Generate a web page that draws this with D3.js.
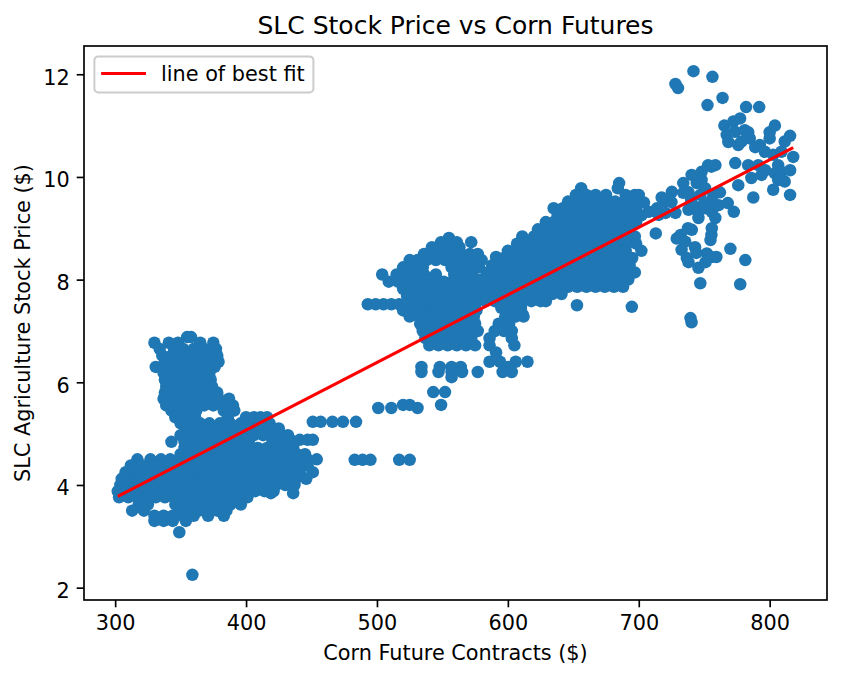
<!doctype html>
<html>
<head>
<meta charset="utf-8">
<script src="https://cdnjs.cloudflare.com/ajax/libs/d3/7.8.5/d3.min.js"></script>
<style>
    body { margin: 0; background: #fff; }
    text { font-family: "DejaVu Sans", sans-serif; fill: #000; }
</style>
</head>
<body>
<svg id="chart" width="843" height="678"></svg>
<script>
    // rows: [SLC price, [corn future prices at that price]]
    var leftTallRows = [
        [6.88, [355, 358]],
        [6.77, [330, 341, 348, 365, 375]],
        [6.65, [334, 345, 352, 360, 368, 377]],
        [6.52, [336, 343, 350, 357, 364, 371, 378]],
        [6.4, [338, 346, 353, 360, 367, 374, 379]],
        [6.3, [331, 340, 347, 354, 362, 369, 376]],
        [6.18, [337, 344, 351, 358, 365, 372]],
        [6.05, [338, 345, 352, 359, 366, 373]],
        [5.92, [339, 347, 354, 361, 368, 374]],
        [5.8, [338, 345, 352, 359, 366, 373, 378]],
        [5.68, [337, 344, 351, 358, 365, 372, 379, 387]],
        [5.55, [339, 347, 354, 361, 368, 375, 382, 390]],
        [5.45, [343, 350, 357, 362, 383, 391]],
        [5.32, [346, 353, 361, 386, 400, 406, 411, 416]],
        [5.2, [350, 358, 365, 372, 380, 388, 396, 403, 410, 418]]
    ];

    var leftLowerRows = [
        [5.1, [354, 361, 368, 375, 382, 389, 396, 403, 410, 418, 425]],
        [4.97, [350, 357, 364, 371, 378, 385, 392, 399, 406, 413, 420, 427, 432]],
        [4.88, [420, 427, 434, 441, 447, 451]],
        [4.84, [343, 353, 360, 367, 374, 381, 388, 395, 402]],
        [4.72, [353, 360, 367, 374, 381, 388, 395, 402, 409, 416, 423, 430, 436]],
        [4.6, [350, 356, 362, 369, 376, 383, 390, 397, 404, 411, 418, 425, 432, 439, 445]],
        [4.5, [317, 327, 335, 342, 349, 356, 363, 370, 377, 384, 391, 398, 405, 412, 419, 426, 433, 440, 447, 454]],
        [4.38, [312, 320, 328, 335, 342, 349, 356, 363, 370, 377, 384, 391, 398, 405, 412, 419, 426, 433, 440, 447]],
        [4.25, [308, 315, 322, 329, 336, 343, 350, 357, 364, 371, 378, 385, 392, 399, 406, 413, 420, 427, 434, 441, 451]],
        [4.12, [305, 312, 319, 326, 333, 340, 347, 354, 361, 368, 375, 382, 389, 396, 403, 410, 417, 424, 431, 438, 446]],
        [4.0, [304, 311, 318, 325, 332, 339, 346, 353, 360, 367, 374, 381, 388, 395, 402, 409, 416, 423, 430, 437]],
        [3.88, [302, 309, 316, 323, 330, 337, 344, 351, 358, 365, 372, 379, 386, 393, 400, 407, 414, 421]],
        [3.84, [419, 436]],
        [3.76, [303, 310, 317, 324, 331, 338, 345, 352, 359, 366, 373, 380, 387, 394, 401]],
        [3.62, [318, 325, 346, 353, 360, 367, 374, 381, 388, 396]],
        [3.5, [313, 322, 350, 357, 364, 371, 378, 385]],
        [3.4, [330, 337, 344, 352, 360, 371, 383]],
        [3.3, [330, 337, 344, 354]],
        [3.08, [349]],
        [2.25, [359]]
    ];

    var middleRows = [
        [8.81, [555]],
        [8.73, [549, 561, 572]],
        [8.63, [542, 549, 556, 563]],
        [8.5, [536, 543, 550, 557, 564, 571, 577]],
        [8.44, [591]],
        [8.38, [525, 531, 538, 545, 552, 559, 566, 573, 580]],
        [8.24, [520, 528, 535, 557, 564, 571, 578]],
        [8.1, [504, 515, 522, 529, 536, 545, 559, 566, 573]],
        [7.96, [509, 516, 523, 530, 537, 544, 551, 558, 565, 572]],
        [7.82, [520, 527, 534, 541, 548, 555, 562, 569]],
        [7.68, [523, 530, 537, 544, 551, 558, 565, 572]],
        [7.52, [493, 499, 505, 511, 517, 526, 533, 540, 547, 554, 561, 568, 575]],
        [7.4, [520, 527, 534, 541, 548, 555, 562, 569, 576]],
        [7.28, [525, 532, 539, 546, 553, 560, 567, 574, 598, 606, 612]],
        [7.14, [533, 540, 547, 554, 561, 568, 575, 593, 601]],
        [7.0, [535, 542, 549, 556, 563, 570, 577, 590, 597, 603]],
        [6.86, [537, 544, 551, 558, 565, 572, 586, 603]],
        [6.72, [540, 547, 554, 561, 568, 575, 586, 605]],
        [6.58, [591]],
        [6.4, [586, 594, 606, 615]],
        [6.3, [534, 548, 557, 564, 600]],
        [6.2, [534, 547, 557, 565, 577, 596, 603]],
        [6.1, [557]]
    ];

    var bandRows = [
        [9.88, [685]],
        [9.78, [656, 684]],
        [9.65, [652, 660, 667, 675, 690, 697]],
        [9.52, [646, 654, 661, 668, 675, 682, 689, 697]],
        [9.39, [635, 642, 649, 656, 663, 670, 677, 684, 691, 698]],
        [9.25, [638, 645, 652, 659, 666, 673, 680, 687, 694, 702]],
        [9.12, [629, 635, 642, 649, 656, 663, 670, 677, 684, 691, 698]],
        [8.98, [623, 630, 637, 644, 651, 658, 665, 672, 679, 686, 693]],
        [8.84, [611, 620, 627, 634, 641, 648, 655, 662, 669, 676, 683, 690, 697]],
        [8.7, [607, 614, 621, 628, 635, 642, 649, 656, 663, 670, 677, 684, 691, 698]],
        [8.56, [600, 606, 613, 620, 627, 634, 641, 648, 655, 662, 669, 676, 683, 690, 702]],
        [8.42, [597, 604, 611, 618, 625, 632, 639, 646, 653, 660, 667, 674, 681, 688, 695]],
        [8.28, [588, 595, 602, 609, 616, 623, 630, 637, 644, 651, 658, 665, 672, 679, 686, 693]],
        [8.14, [584, 591, 598, 605, 612, 619, 626, 633, 640, 647, 654, 661, 668, 675, 682, 689, 697]],
        [8.0, [580, 587, 594, 601, 608, 615, 622, 629, 636, 643, 650, 657, 664, 671, 678, 685, 692]],
        [7.86, [576, 583, 590, 597, 604, 611, 618, 625, 632, 639, 646, 653, 660, 667, 674, 681, 688]],
        [7.72, [578, 585, 592, 599, 606, 613, 620, 627, 634, 641]],
        [7.58, [583, 590, 597, 604, 611, 618, 625, 629]],
        [7.45, [595, 603, 610]],
        [7.33, [611]]
    ];

    // single points as [corn future price, SLC price]
    var bridgePoints = [
        [451, 5.23], [457, 5.23], [466, 5.23], [474, 5.23], [484, 5.23],
        [483, 4.49], [489, 4.49], [495, 4.49], [517, 4.49], [525, 4.49],
        [501, 5.5], [511, 5.5], [520, 5.56], [525, 5.56], [531, 5.5],
        [543, 5.81], [552, 5.81], [549, 5.56]
    ];

    var rightSparse = [
        [652.8, 7.5], [694.7, 7.47], [739.5, 7.25], [740.3, 7.17],
        [747, 7.93], [777.5, 7.91],
        [713, 8.9], [732, 8.87], [740.5, 8.97], [737.6, 9.0], [729, 8.8], [735.5, 8.74],
        [755.5, 8.87], [754.8, 8.77], [755.8, 9.0],
        [732.7, 8.58], [743, 8.63], [744, 8.52], [752, 8.51], [736.7, 8.42], [738, 8.34],
        [745.6, 8.23], [751, 8.34], [755.5, 8.44], [759.3, 8.44], [770, 8.6], [781.4, 8.38],
        [707.6, 9.32], [704, 9.5], [700, 9.65], [714, 9.39], [715.2, 9.26], [717.5, 9.6],
        [720.3, 9.52], [720.5, 9.3], [725.3, 9.71], [725, 9.51], [728, 9.3], [734, 9.88],
        [734, 9.69], [738, 9.36], [740, 9.55], [738, 9.7], [743, 9.42], [745.6, 9.32],
        [745.6, 9.2], [747, 9.65], [749.6, 9.46], [751, 9.39], [748, 9.94], [744.3, 9.88],
        [740.4, 10.04], [748, 10.1], [750.7, 9.78], [757, 9.65], [754.5, 9.52], [755.8, 9.32],
        [758.5, 9.2], [761, 9.45], [762, 9.7], [768, 9.49], [772.6, 9.32], [755.5, 10.2],
        [753, 10.23], [758.5, 10.23]
    ];

    var farRight = [
        [741.8, 12.06], [756.3, 11.95], [728, 11.81], [730, 11.73], [752.5, 11.4], [764, 11.54],
        [782, 11.36], [792, 11.36],
        [765.4, 11.0], [767.2, 10.82], [772.3, 11.08], [777.4, 11.14], [773.5, 10.88], [781, 10.91],
        [783.6, 10.87], [784.8, 10.75], [778.5, 10.69], [768.4, 10.68], [776, 10.62], [789, 10.58],
        [792.5, 10.62], [796.3, 10.49], [800, 10.75], [800, 10.87], [804, 11.0], [802.7, 10.43],
        [809, 10.49], [811.5, 10.69], [815.6, 10.8], [818, 10.39],
        [773.7, 10.27], [783.6, 10.23], [791.3, 10.23], [806.5, 10.23], [796.6, 10.13], [804, 10.07],
        [809, 10.1], [815.6, 10.13], [793.8, 10.04], [786, 9.98], [776, 9.84], [806.5, 9.94],
        [811.5, 9.91], [802.7, 9.75], [815.6, 9.65], [787.5, 9.6]
    ];

    // line of best fit
    var fitSlope = 0.01316;
    var fitIntercept = -0.194;

    var xTicks = [300, 400, 500, 600, 700, 800];
    var yTicks = [2, 4, 6, 8, 10, 12];

    // flatten everything into [x, y]
    var points = [];
    [leftTallRows, leftLowerRows, middleRows, bandRows].forEach(function(rows) {
        rows.forEach(function(r) {
            r[1].forEach(function(v) { points.push([v, r[0]]); });
        });
    });
    [bridgePoints, rightSparse, farRight].forEach(function(list) {
        list.forEach(function(p) { points.push(p); });
    });

    var plotL = 84, plotR = 827, plotT = 46, plotB = 600;
    var fs = 20.8;

    // matplotlib style 5% margins
    var xe = d3.extent(points, function(d) { return d[0]; });
    var ye = d3.extent(points, function(d) { return d[1]; });
    var xp = (xe[1] - xe[0]) * 0.05, yp = (ye[1] - ye[0]) * 0.05;
    var xScale = d3.scaleLinear().domain([xe[0] - xp, xe[1] + xp]).range([plotL, plotR]);
    var yScale = d3.scaleLinear().domain([ye[0] - yp, ye[1] + yp]).range([plotB, plotT]);

    var svg = d3.select("#chart");

    svg.append("g").selectAll("circle")
        .data(points)
        .enter()
        .append("circle")
        .attr("cx", function(d) { return xScale(d[0]); })
        .attr("cy", function(d) { return yScale(d[1]); })
        .attr("r", 6.25)
        .style("fill", "#1f77b4");

    var fitLine = [xe[0], xe[1]].map(function(v) { return [v, fitSlope * v + fitIntercept]; });
    svg.append("path")
        .datum(fitLine)
        .attr("d", d3.line().x(function(d) { return xScale(d[0]); }).y(function(d) { return yScale(d[1]); }))
        .style("fill", "none")
        .style("stroke", "red")
        .style("stroke-width", 3.1);

    // axes
    var xAxis = svg.append("g")
        .attr("transform", "translate(0," + plotB + ")")
        .call(d3.axisBottom(xScale).tickValues(xTicks).tickSize(7.3).tickSizeOuter(0).tickPadding(8.3));
    var yAxis = svg.append("g")
        .attr("transform", "translate(" + plotL + ",0)")
        .call(d3.axisLeft(yScale).tickValues(yTicks).tickSize(7.3).tickSizeOuter(0).tickPadding(7));
    [xAxis, yAxis].forEach(function(g) {
        g.select(".domain").remove();
        g.selectAll(".tick line").style("stroke", "#000").style("stroke-width", 1.67);
        g.selectAll(".tick text").style("font-size", fs + "px").style("font-family", "DejaVu Sans");
    });
    yAxis.selectAll(".tick text").attr("dy", "0.48em");

    svg.append("rect")
        .attr("x", plotL).attr("y", plotT)
        .attr("width", plotR - plotL).attr("height", plotB - plotT)
        .style("fill", "none").style("stroke", "#000").style("stroke-width", 1.67);

    // labels
    svg.append("text")
        .attr("x", (plotL + plotR) / 2).attr("y", 33.5)
        .attr("text-anchor", "middle")
        .style("font-size", "25px")
        .text("SLC Stock Price vs Corn Futures");
    svg.append("text")
        .attr("x", (plotL + plotR) / 2).attr("y", 659.5)
        .attr("text-anchor", "middle")
        .style("font-size", fs + "px")
        .text("Corn Future Contracts ($)");
    svg.append("text")
        .attr("transform", "translate(30," + (plotT + plotB) / 2 + ") rotate(-90)")
        .attr("text-anchor", "middle")
        .style("font-size", fs + "px")
        .text("SLC Agriculture Stock Price ($)");

    // legend
    var lg = svg.append("g");
    lg.append("rect")
        .attr("x", 94.4).attr("y", 56.4).attr("width", 219).attr("height", 36).attr("rx", 4)
        .style("fill", "#fff").style("fill-opacity", 0.8)
        .style("stroke", "#cccccc").style("stroke-width", 2);
    lg.append("line")
        .attr("x1", 102.7).attr("x2", 144.4).attr("y1", 73.5).attr("y2", 73.5)
        .style("stroke", "red").style("stroke-width", 3.1).style("stroke-linecap", "square");
    lg.append("text")
        .attr("x", 161).attr("y", 81)
        .style("font-size", fs + "px")
        .text("line of best fit");
</script>
</body>
</html>
